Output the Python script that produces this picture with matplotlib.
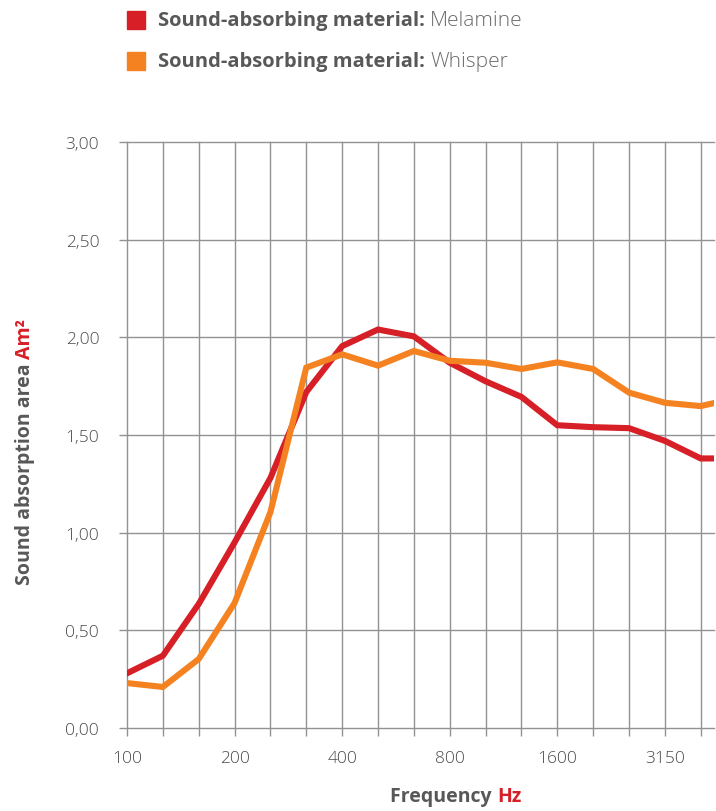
import matplotlib.pyplot as plt
from matplotlib.ticker import FuncFormatter

# Third-octave band centres and measured absorption area (Am2)
freqs = [100, 125, 160, 200, 250, 315, 400, 500, 630, 800, 1000, 1250,
         1600, 2000, 2500, 3150, 4000, 5000]
melamine = [0.28, 0.37, 0.635, 0.95, 1.28, 1.72, 1.955, 2.04, 2.005, 1.87,
            1.775, 1.695, 1.55, 1.54, 1.535, 1.47, 1.38, 1.38]
whisper = [0.23, 0.21, 0.353, 0.64, 1.105, 1.845, 1.913, 1.855, 1.93, 1.88,
           1.87, 1.838, 1.872, 1.838, 1.717, 1.665, 1.648, 1.69]
shown_labels = ['100', '200', '400', '800', '1600', '3150']

RED = '#d71f27'
ORANGE = '#f58220'
GRAY = '#585858'
GRID = '#929292'
FONT = 'Open Sans'

W, H = 716, 812
fig = plt.figure(figsize=(W / 100, H / 100), dpi=100)
ax = fig.add_axes([127 / W, (H - 729) / H, (714 - 127) / W, (729 - 143) / H])

x = list(range(len(freqs)))
ax.plot(x, melamine, color=RED, lw=4.4, solid_joinstyle='miter', zorder=3)
ax.plot(x, whisper, color=ORANGE, lw=4.4, solid_joinstyle='miter', zorder=3)

ax.set_xlim(0, 16.37)
ax.set_ylim(0, 3.0)
ax.set_xticks(x[:17])
ax.set_xticklabels([str(f) if str(f) in shown_labels else '' for f in freqs[:17]])
ax.set_yticks([0, 0.5, 1.0, 1.5, 2.0, 2.5, 3.0])
ax.yaxis.set_major_formatter(FuncFormatter(lambda v, p: f'{v:.2f}'.replace('.', ',')))

ax.grid(True, color=GRID, lw=1.0)
ax.set_axisbelow(True)
for gl in ax.get_xgridlines() + ax.get_ygridlines():
    gl.set_clip_on(False)
for s in ax.spines.values():
    s.set_visible(False)
ax.tick_params(axis='both', length=6, width=1.0, color=GRID, labelcolor='#4a4a4a',
               labelsize=12.5)
ax.tick_params(axis='y', pad=14)
ax.tick_params(axis='x', pad=10)
for lbl in ax.get_xticklabels() + ax.get_yticklabels():
    lbl.set_fontfamily(FONT)
    lbl.set_fontweight('light')

# axis titles
fig.text(497 / W, 1 - 797 / H, 'Frequency ', ha='right', va='center',
         fontsize=14, fontweight='bold', color=GRAY, family=FONT)
fig.text(497 / W, 1 - 797 / H, 'Hz', ha='left', va='center',
         fontsize=14, fontweight='bold', color=RED, family=FONT)

yl = fig.text(25 / W, 1 - 472 / H, 'Sound absorption area ', rotation=90,
              ha='center', va='center', fontsize=14, fontweight='bold',
              color=GRAY, family=FONT)
plt.annotate('Am²', xy=(0.5, 1.0), xycoords=yl, rotation=90, ha='center',
             va='bottom', fontsize=14, fontweight='bold', color=RED,
             family=FONT, annotation_clip=False)

# legend
for yc, col, name in [(21, RED, 'Melamine'), (62, ORANGE, 'Whisper')]:
    fig.patches.append(plt.Rectangle((127 / W, 1 - (yc + 9) / H), 18 / W, 18 / H,
                                     transform=fig.transFigure, color=col))
    lt = fig.text(158 / W, 1 - yc / H, 'Sound-absorbing material: ', ha='left',
                  va='center', fontsize=14.5, fontweight='bold', color=GRAY,
                  family=FONT)
    plt.annotate(name, xy=(1.0, 0.5), xycoords=lt, ha='left', va='center',
                 fontsize=15, fontweight='light', color='#6a6a6a', family=FONT,
                 annotation_clip=False)

fig.savefig('out.png', dpi=100)
